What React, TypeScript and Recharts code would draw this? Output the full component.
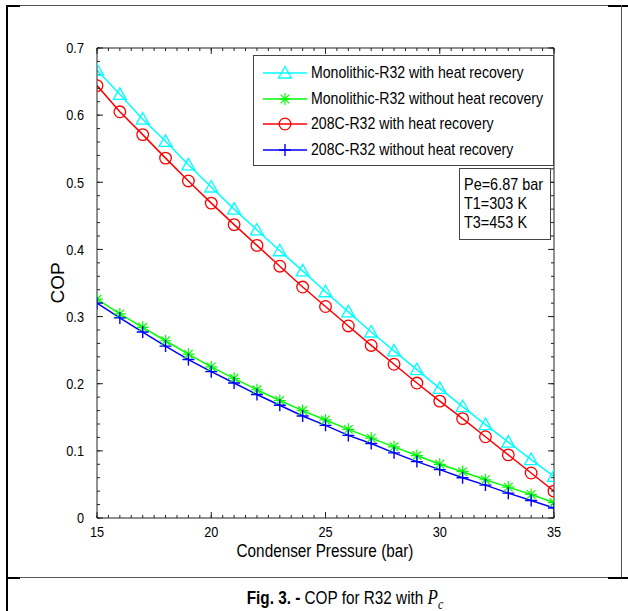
import React from "react";
import { LineChart, Line, XAxis, YAxis } from "recharts";

// condenser pressure (bar)
const pressure = [15, 16, 17, 18, 19, 20, 21, 22, 23, 24, 25, 26, 27, 28, 29, 30, 31, 32, 33, 34, 35];

const monoWithHR = [
  0.667, 0.631, 0.594, 0.561, 0.526, 0.493, 0.46, 0.429, 0.398, 0.368, 0.337, 0.307, 0.277, 0.249, 0.221,
  0.193, 0.166, 0.139, 0.113, 0.087, 0.062
];
const monoWithoutHR = [
  0.326, 0.304, 0.284, 0.264, 0.244, 0.225, 0.208, 0.191, 0.175, 0.16, 0.146, 0.132, 0.119, 0.106, 0.093,
  0.08, 0.069, 0.057, 0.046, 0.035, 0.023
];
const r208WithHR = [
  0.644, 0.605, 0.571, 0.536, 0.502, 0.469, 0.437, 0.406, 0.375, 0.344, 0.315, 0.286, 0.257, 0.229, 0.201,
  0.174, 0.148, 0.121, 0.094, 0.067, 0.04
];
const r208WithoutHR = [
  0.32, 0.298, 0.277, 0.256, 0.236, 0.218, 0.201, 0.184, 0.168, 0.152, 0.138, 0.123, 0.111, 0.097, 0.084,
  0.072, 0.06, 0.049, 0.037, 0.026, 0.015
];

const xTicks = [15, 20, 25, 30, 35];
const xMinorTicks = [
  15, 15.5, 16, 16.5, 17, 17.5, 18, 18.5, 19, 19.5, 20, 20.5, 21, 21.5, 22, 22.5, 23, 23.5, 24, 24.5, 25, 25.5,
  26, 26.5, 27, 27.5, 28, 28.5, 29, 29.5, 30, 30.5, 31, 31.5, 32, 32.5, 33, 33.5, 34, 34.5, 35
];
const yTicks = [0, 0.1, 0.2, 0.3, 0.4, 0.5, 0.6, 0.7];
const yMinorTicks = [
  0, 0.02, 0.04, 0.06, 0.08, 0.1, 0.12, 0.14, 0.16, 0.18, 0.2, 0.22, 0.24, 0.26, 0.28, 0.3, 0.32, 0.34, 0.36,
  0.38, 0.4, 0.42, 0.44, 0.46, 0.48, 0.5, 0.52, 0.54, 0.56, 0.58, 0.6, 0.62, 0.64, 0.66, 0.68, 0.7
];

const legendItems = [
  { name: "Monolithic-R32 with heat recovery", color: "#00ffff", marker: "triangle" },
  { name: "Monolithic-R32 without heat recovery", color: "#00ff00", marker: "star" },
  { name: "208C-R32 with heat recovery", color: "#ff0000", marker: "circle" },
  { name: "208C-R32 without heat recovery", color: "#0000ff", marker: "plus" }
];
const noteLines = ["Pe=6.87 bar", "T1=303 K", "T3=453 K"];

const data = pressure.map((p, i) => ({
  p,
  monoHR: monoWithHR[i],
  monoNoHR: monoWithoutHR[i],
  r208HR: r208WithHR[i],
  r208NoHR: r208WithoutHR[i]
}));

const FONT = "'Liberation Sans', Arial, sans-serif";
const AXIS = "#222";
const NARROW = 0.85; // the figure's lettering is condensed
const THIN = 0.01; // tick-only axes take (almost) no room

function Marker({ kind, cx, cy, color }: { kind: string; cx: number; cy: number; color: string }) {
  if (kind === "triangle") {
    return (
      <path
        d={`M${cx},${cy - 6.5} L${cx + 6.5},${cy + 5} L${cx - 6.5},${cy + 5} Z`}
        fill="none"
        stroke={color}
        strokeWidth={1.3}
      />
    );
  }
  if (kind === "circle") {
    return <circle cx={cx} cy={cy} r={5.8} fill="none" stroke={color} strokeWidth={1.3} />;
  }
  if (kind === "plus") {
    return <path d={`M${cx - 6},${cy} H${cx + 6} M${cx},${cy - 6} V${cy + 6}`} stroke={color} strokeWidth={1.4} />;
  }
  // asterisk: plus + cross
  const d = 4.3;
  return (
    <path
      d={`M${cx - 6},${cy} H${cx + 6} M${cx},${cy - 6} V${cy + 6} M${cx - d},${cy - d} L${cx + d},${cy + d} M${cx - d},${cy + d} L${cx + d},${cy - d}`}
      stroke={color}
      strokeWidth={1.2}
    />
  );
}

function makeDot(kind: string, color: string) {
  return (props: any) => {
    const { cx, cy, index } = props;
    return (
      <g key={`${kind}-${index}`}>
        <Marker kind={kind} cx={cx} cy={cy} color={color} />
      </g>
    );
  };
}

const emptyTick = (props: any) => <g key={`e-${props.index}`} />;

function NarrowTick(props: any) {
  const { x, y, payload, textAnchor, orientation } = props;
  const dy = orientation === "bottom" ? "0.71em" : "0.355em";
  return (
    <g transform={`translate(${x},${y})`}>
      <text transform={`scale(${NARROW},1)`} textAnchor={textAnchor} dy={dy} fontSize={15} fill="#000" fontFamily={FONT}>
        {payload.value}
      </text>
    </g>
  );
}

// tick-only axes (inward marks on all four sides)
function tickAxesX(id: string, orientation: "top" | "bottom", ticks: number[], size: number, line: boolean) {
  return (
    <XAxis
      key={id}
      xAxisId={id}
      orientation={orientation}
      type="number"
      dataKey="p"
      domain={[15, 35]}
      allowDataOverflow
      ticks={ticks}
      interval={0}
      height={THIN}
      mirror
      tick={emptyTick}
      tickSize={size}
      axisLine={line ? { stroke: AXIS } : false}
      tickLine={{ stroke: AXIS }}
    />
  );
}

function tickAxesY(id: string, orientation: "left" | "right", ticks: number[], size: number, line: boolean) {
  return (
    <YAxis
      key={id}
      yAxisId={id}
      orientation={orientation}
      type="number"
      domain={[0, 0.7]}
      allowDataOverflow
      ticks={ticks}
      interval={0}
      width={THIN}
      mirror
      tick={emptyTick}
      tickSize={size}
      axisLine={line ? { stroke: AXIS } : false}
      tickLine={{ stroke: AXIS }}
    />
  );
}

export default function App() {
  return (
    <div style={{ position: "absolute", left: 0, top: 0, width: 628, height: 611, background: "#fff", fontFamily: FONT }}>
      {/* frame */}
      <div style={{ position: "absolute", left: 6, top: 5, width: 2, height: 606, background: "#000" }} />
      <div style={{ position: "absolute", left: 6, top: 5, width: 622, height: 1, background: "#555" }} />
      <div style={{ position: "absolute", left: 6, top: 5, width: 14, height: 2, background: "#000" }} />
      <div style={{ position: "absolute", left: 608, top: 5, width: 20, height: 2, background: "#000" }} />
      <div style={{ position: "absolute", left: 621, top: 5, width: 1, height: 573, background: "#555" }} />
      <div style={{ position: "absolute", left: 6, top: 577, width: 622, height: 1, background: "#555" }} />
      <div style={{ position: "absolute", left: 6, top: 577, width: 14, height: 2, background: "#000" }} />
      <div style={{ position: "absolute", left: 608, top: 577, width: 20, height: 2, background: "#000" }} />

      <LineChart
        width={628}
        height={611}
        data={data}
        margin={{ top: 48, right: 74, bottom: 0, left: 0 }}
        style={{ position: "absolute", left: 0, top: 0, fontFamily: FONT }}
      >
        {tickAxesX("bMinor", "bottom", xMinorTicks, 3, false)}
        {tickAxesX("bMajor", "bottom", xTicks, 6, false)}
        {tickAxesX("tMinor", "top", xMinorTicks, 3, true)}
        {tickAxesX("tMajor", "top", xTicks, 6, false)}
        <XAxis
          xAxisId="x"
          type="number"
          dataKey="p"
          domain={[15, 35]}
          allowDataOverflow
          ticks={xTicks}
          interval={0}
          height={93}
          tickLine={false}
          tickSize={0}
          tickMargin={8}
          axisLine={{ stroke: AXIS }}
          tick={<NarrowTick />}
        />

        {tickAxesY("lMinor", "left", yMinorTicks, 3, false)}
        {tickAxesY("lMajor", "left", yTicks, 6, false)}
        {tickAxesY("rMinor", "right", yMinorTicks, 3, true)}
        {tickAxesY("rMajor", "right", yTicks, 6, false)}
        <YAxis
          yAxisId="y"
          type="number"
          domain={[0, 0.7]}
          allowDataOverflow
          ticks={yTicks}
          interval={0}
          width={97}
          tickLine={false}
          tickSize={0}
          tickMargin={13}
          axisLine={{ stroke: AXIS }}
          tick={<NarrowTick />}
        />

        {/* invisible carriers so every tick-only axis pair has a series */}
        <Line xAxisId="bMinor" yAxisId="lMinor" dataKey="monoHR" stroke="none" dot={false} legendType="none" isAnimationActive={false} />
        <Line xAxisId="bMajor" yAxisId="lMajor" dataKey="monoHR" stroke="none" dot={false} legendType="none" isAnimationActive={false} />
        <Line xAxisId="tMinor" yAxisId="rMinor" dataKey="monoHR" stroke="none" dot={false} legendType="none" isAnimationActive={false} />
        <Line xAxisId="tMajor" yAxisId="rMajor" dataKey="monoHR" stroke="none" dot={false} legendType="none" isAnimationActive={false} />

        <Line xAxisId="x" yAxisId="y" dataKey="monoHR" stroke="#00ffff" strokeWidth={1.5}
          dot={makeDot("triangle", "#00ffff")} isAnimationActive={false} />
        <Line xAxisId="x" yAxisId="y" dataKey="monoNoHR" stroke="#00ff00" strokeWidth={1.5}
          dot={makeDot("star", "#00ff00")} isAnimationActive={false} />
        <Line xAxisId="x" yAxisId="y" dataKey="r208HR" stroke="#ff0000" strokeWidth={1.5}
          dot={makeDot("circle", "#ff0000")} isAnimationActive={false} />
        <Line xAxisId="x" yAxisId="y" dataKey="r208NoHR" stroke="#0000ff" strokeWidth={1.5}
          dot={makeDot("plus", "#0000ff")} isAnimationActive={false} />
      </LineChart>

      {/* axis titles */}
      <div
        style={{
          position: "absolute",
          left: 0,
          top: 540,
          width: 650,
          textAlign: "center",
          fontSize: 18,
          lineHeight: "22px",
          transform: `scaleX(${NARROW})`,
          transformOrigin: "325px 0"
        }}
      >
        Condenser Pressure (bar)
      </div>
      <div
        style={{
          position: "absolute",
          left: 58 - 40,
          top: 283 - 11,
          width: 80,
          height: 22,
          lineHeight: "22px",
          textAlign: "center",
          fontSize: 19,
          transform: "rotate(-90deg)",
          transformOrigin: "40px 11px"
        }}
      >
        COP
      </div>

      {/* legend */}
      <div
        style={{
          position: "absolute",
          left: 253,
          top: 55,
          width: 299,
          height: 109,
          border: "1px solid #444",
          background: "#fff"
        }}
      >
        {legendItems.map((item, i) => (
          <div key={item.name} style={{ position: "absolute", left: 9, top: 6 + i * 25.5, height: 22, display: "flex", alignItems: "center" }}>
            <svg width={44} height={22} style={{ display: "block" }}>
              <line x1={0} y1={11} x2={44} y2={11} stroke={item.color} strokeWidth={1.5} />
              <Marker kind={item.marker} cx={22} cy={11} color={item.color} />
            </svg>
            <span
              style={{
                marginLeft: 4,
                fontSize: 16.6,
                color: "#000",
                whiteSpace: "nowrap",
                display: "inline-block",
                transform: `scaleX(${NARROW})`,
                transformOrigin: "0 50%"
              }}
            >
              {item.name}
            </span>
          </div>
        ))}
      </div>

      {/* conditions */}
      <div
        style={{
          position: "absolute",
          left: 459,
          top: 168,
          width: 90,
          height: 70,
          border: "1px solid #444",
          background: "#fff"
        }}
      >
        {noteLines.map((t, i) => (
          <div
            key={t}
            style={{
              position: "absolute",
              left: 4,
              top: 6 + i * 19,
              fontSize: 17,
              lineHeight: "19px",
              whiteSpace: "nowrap",
              transform: `scaleX(${NARROW})`,
              transformOrigin: "0 50%"
            }}
          >
            {t}
          </div>
        ))}
      </div>

      {/* caption */}
      <div
        style={{
          position: "absolute",
          left: 0,
          top: 586,
          width: 690,
          textAlign: "center",
          fontSize: 18,
          lineHeight: "22px",
          color: "#000",
          transform: `scaleX(${NARROW})`,
          transformOrigin: "345px 0"
        }}
      >
        <b>Fig. 3. -</b> COP for R32 with{" "}
        <span style={{ fontFamily: "'Liberation Serif', serif", fontStyle: "italic", fontSize: 20 }}>
          P<sub style={{ fontSize: 14 }}>c</sub>
        </span>
      </div>
    </div>
  );
}
